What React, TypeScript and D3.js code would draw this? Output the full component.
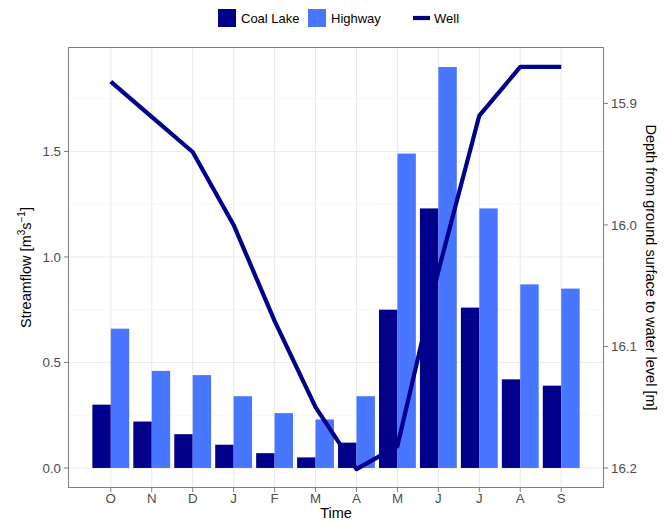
import React from "react";
import * as d3 from "d3";

const months = ["O", "N", "D", "J", "F", "M", "A", "M", "J", "J", "A", "S"];
const coalLake = [0.30, 0.22, 0.16, 0.11, 0.07, 0.05, 0.12, 0.75, 1.23, 0.76, 0.42, 0.39];
const highway = [0.66, 0.46, 0.44, 0.34, 0.26, 0.23, 0.34, 1.49, 1.90, 1.23, 0.87, 0.85];
const well = [15.882, 15.911, 15.940, 16.000, 16.079, 16.150, 16.201, 16.182, 16.038, 15.910, 15.870, 15.870];
const leftTicks = [0, 0.5, 1.0, 1.5];
const leftMinor = [0.25, 0.75, 1.25, 1.75];
const rightTicks = [15.9, 16.0, 16.1, 16.2];

const W = 670, H = 522;
const panel = { left: 68, right: 604, top: 47, bottom: 488 };
const COAL = "#00008B";
const HWY = "#4876FF";
const FONT = "'Liberation Sans', Arial, Helvetica, sans-serif";

export default function App() {
  const x = d3.scaleLinear().domain([-1.045, 12.045]).range([panel.left, panel.right]);
  const y = d3.scaleLinear().domain([-0.095, 1.995]).range([panel.bottom, panel.top]);
  const k = 0.3 / 1.7276;
  const yR = d3.scaleLinear().domain([16.2 + 0.095 * k, 16.2 - 1.995 * k]).range([panel.bottom, panel.top]);
  const bw = 0.45;
  const line = d3
    .line<number>()
    .x((_, i) => x(i))
    .y((d) => yR(d));

  return (
    <svg width={W} height={H} style={{ display: "block", position: "absolute", left: 0, top: 0 }} fontFamily={FONT}>
      <rect x={0} y={0} width={W} height={H} fill="white" />
      {/* grid */}
      {leftMinor.map((v) => (
        <line key={"mn" + v} x1={panel.left} x2={panel.right} y1={y(v)} y2={y(v)} stroke="#F2F2F2" strokeWidth={0.6} />
      ))}
      {leftTicks.map((v) => (
        <line key={"mj" + v} x1={panel.left} x2={panel.right} y1={y(v)} y2={y(v)} stroke="#EBEBEB" strokeWidth={1.1} />
      ))}
      {months.map((m, i) => (
        <line key={"vg" + i} x1={x(i)} x2={x(i)} y1={panel.top} y2={panel.bottom} stroke="#EBEBEB" strokeWidth={1.1} />
      ))}
      {/* bars */}
      {coalLake.map((v, i) => (
        <rect key={"c" + i} x={x(i - bw)} width={x(i) - x(i - bw)} y={y(v)} height={y(0) - y(v)} fill={COAL} />
      ))}
      {highway.map((v, i) => (
        <rect key={"h" + i} x={x(i)} width={x(i + bw) - x(i)} y={y(v)} height={y(0) - y(v)} fill={HWY} />
      ))}
      {/* line */}
      <path d={line(well) || ""} fill="none" stroke={COAL} strokeWidth={4.2} strokeLinejoin="round" strokeLinecap="butt" />
      {/* border */}
      <rect x={panel.left + 0.5} y={panel.top + 0.5} width={panel.right - panel.left - 1} height={panel.bottom - panel.top - 1} fill="none" stroke="#7F7F7F" strokeWidth={1} />
      {/* left axis */}
      {leftTicks.map((v) => (
        <g key={"lt" + v}>
          <line x1={panel.left - 4} x2={panel.left} y1={y(v)} y2={y(v)} stroke="#7F7F7F" strokeWidth={1} />
          <text x={panel.left - 7} y={y(v)} dy="0.35em" textAnchor="end" fontSize={13.3} fill="#4D4D4D">
            {v.toFixed(1)}
          </text>
        </g>
      ))}
      {/* right axis */}
      {rightTicks.map((v) => (
        <g key={"rt" + v}>
          <line x1={panel.right} x2={panel.right + 4} y1={yR(v)} y2={yR(v)} stroke="#7F7F7F" strokeWidth={1} />
          <text x={panel.right + 7} y={yR(v)} dy="0.35em" textAnchor="start" fontSize={13.3} fill="#4D4D4D">
            {v.toFixed(1)}
          </text>
        </g>
      ))}
      {/* bottom axis */}
      {months.map((m, i) => (
        <g key={"bt" + i}>
          <line x1={x(i)} x2={x(i)} y1={panel.bottom} y2={panel.bottom + 4} stroke="#7F7F7F" strokeWidth={1} />
          <text x={x(i)} y={panel.bottom + 14.5} textAnchor="middle" fontSize={13.3} fill="#4D4D4D">
            {m}
          </text>
        </g>
      ))}
      <text x={(panel.left + panel.right) / 2} y={518} textAnchor="middle" fontSize={14.5} fill="black">
        Time
      </text>
      {/* left title */}
      <text transform={`translate(31,${(panel.top + panel.bottom) / 2}) rotate(-90)`} textAnchor="middle" fontSize={14.5} fill="black">
        Streamflow [m
        <tspan fontSize={10} dy={-6}>3</tspan>
        <tspan dy={6}>s</tspan>
        <tspan fontSize={10} dy={-6}>−1</tspan>
        <tspan dy={6}>]</tspan>
      </text>
      {/* right title */}
      <text transform={`translate(646,${(panel.top + panel.bottom) / 2}) rotate(90)`} textAnchor="middle" fontSize={14.5} fill="black">
        Depth from ground surface to water level [m]
      </text>
      {/* legend */}
      <rect x={218} y={9} width={18} height={18} fill={COAL} />
      <text x={241} y={18} dy="0.35em" fontSize={13} fill="black">Coal Lake</text>
      <rect x={308} y={9} width={18} height={18} fill={HWY} />
      <text x={331} y={18} dy="0.35em" fontSize={13} fill="black">Highway</text>
      <line x1={413} x2={430} y1={18} y2={18} stroke={COAL} strokeWidth={4.2} />
      <text x={434} y={18} dy="0.35em" fontSize={13} fill="black">Well</text>
    </svg>
  );
}
